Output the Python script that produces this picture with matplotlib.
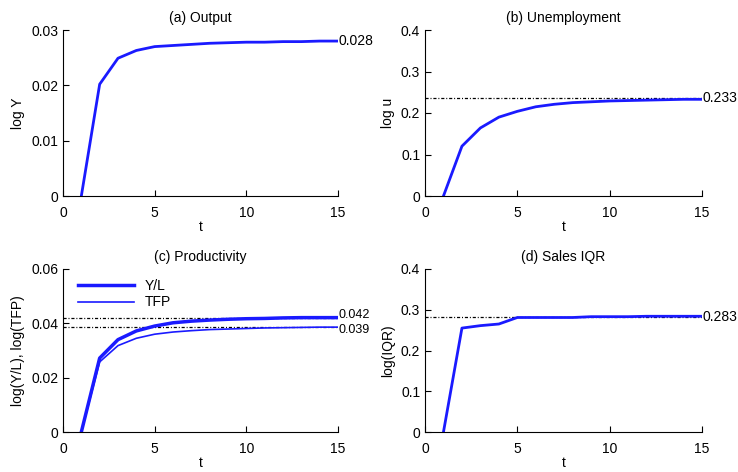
import numpy as np
import matplotlib.pyplot as plt

plt.rcParams['font.family'] = ['Liberation Sans', 'DejaVu Sans']
plt.rcParams['font.size'] = 10

t = np.arange(1, 16)

# (a) output
log_y = [0, 0.0202, 0.0249, 0.0263, 0.0270, 0.0272, 0.0274, 0.0276,
         0.0277, 0.0278, 0.0278, 0.0279, 0.0279, 0.0280, 0.0280]
# (b) unemployment
log_u = [0, 0.120, 0.164, 0.190, 0.204, 0.215, 0.221, 0.225,
         0.227, 0.229, 0.230, 0.231, 0.232, 0.233, 0.233]
u_ss = 0.235
# (c) productivity
log_yl = [0, 0.0272, 0.0340, 0.0372, 0.0390, 0.0402, 0.0408, 0.0412,
          0.0415, 0.0417, 0.0418, 0.0420, 0.0421, 0.0421, 0.0421]
log_tfp = [0, 0.0258, 0.0318, 0.0345, 0.0360, 0.0368, 0.0373, 0.0377,
           0.0379, 0.0381, 0.0383, 0.0384, 0.0385, 0.0386, 0.0386]
yl_ss, tfp_ss = 0.042, 0.0385
# (d) sales IQR
log_iqr = [0, 0.255, 0.261, 0.265, 0.281, 0.281, 0.281, 0.281,
           0.283, 0.283, 0.283, 0.284, 0.284, 0.284, 0.284]
iqr_ss = 0.281

blue = '#1a1aff'
dots = (0, (2.5, 1.5, 0.8, 1.5))

fig = plt.figure(figsize=(7.38, 4.72), dpi=100)
W, H = 738, 472


def make_ax(left, top, right, bottom):
    ax = fig.add_axes([left / W, 1 - bottom / H, (right - left) / W, (bottom - top) / H])
    for s in ['top', 'right']:
        ax.spines[s].set_visible(False)
    ax.tick_params(direction='in', length=4, width=0.8, labelsize=10)
    ax.tick_params(axis='x', pad=7)
    ax.set_xlim(0, 15)
    ax.set_xticks([0, 5, 10, 15])
    ax.set_xlabel('t', labelpad=0)
    return ax


ax1 = make_ax(63, 30, 338, 196)
ax2 = make_ax(425, 30, 702, 196)
ax3 = make_ax(63, 269, 338, 432)
ax4 = make_ax(425, 269, 702, 432)

ax1.plot(t, log_y, color=blue, lw=2)
ax1.set_ylim(0, 0.03)
ax1.set_yticks([0, 0.01, 0.02, 0.03])
ax1.set_yticklabels(['0', '0.01', '0.02', '0.03'])
ax1.set_ylabel('log Y')
ax1.set_title('(a) Output', fontsize=10, pad=6)
ax1.text(15.05, log_y[-1], '0.028', va='center', ha='left', clip_on=False)

ax2.axhline(u_ss, color='black', lw=0.9, ls=dots)
ax2.plot(t, log_u, color=blue, lw=2)
ax2.set_ylim(0, 0.4)
ax2.set_yticks([0, 0.1, 0.2, 0.3, 0.4])
ax2.set_yticklabels(['0', '0.1', '0.2', '0.3', '0.4'])
ax2.set_ylabel('log u')
ax2.set_title('(b) Unemployment', fontsize=10, pad=6)
ax2.text(15.05, u_ss, '0.233', va='center', ha='left', clip_on=False)

ax3.axhline(yl_ss, color='black', lw=0.9, ls=dots)
ax3.axhline(tfp_ss, color='black', lw=0.9, ls=dots)
ax3.plot(t, log_yl, color=blue, lw=2.5, label='Y/L')
ax3.plot(t, log_tfp, color=blue, lw=1.2, label='TFP')
ax3.set_ylim(0, 0.06)
ax3.set_yticks([0, 0.02, 0.04, 0.06])
ax3.set_yticklabels(['0', '0.02', '0.04', '0.06'])
ax3.set_ylabel('log(Y/L), log(TFP)')
ax3.set_title('(c) Productivity', fontsize=10, pad=6)
ax3.annotate('0.042', (15.05, yl_ss), xytext=(0, 2), textcoords='offset points',
             va='center', ha='left', fontsize=9, annotation_clip=False)
ax3.annotate('0.039', (15.05, tfp_ss), xytext=(0, -2), textcoords='offset points',
             va='center', ha='left', fontsize=9, annotation_clip=False)
ax3.legend(loc='upper left', frameon=False, handlelength=4, fontsize=10,
           borderaxespad=0.3, labelspacing=0.2, bbox_to_anchor=(0.02, 1.0))

ax4.axhline(iqr_ss, color='black', lw=0.9, ls=dots)
ax4.plot(t, log_iqr, color=blue, lw=2)
ax4.set_ylim(0, 0.4)
ax4.set_yticks([0, 0.1, 0.2, 0.3, 0.4])
ax4.set_yticklabels(['0', '0.1', '0.2', '0.3', '0.4'])
ax4.set_ylabel('log(IQR)')
ax4.set_title('(d) Sales IQR', fontsize=10, pad=6)
ax4.text(15.05, iqr_ss, '0.283', va='center', ha='left', clip_on=False)

fig.savefig('out.png', dpi=100)
